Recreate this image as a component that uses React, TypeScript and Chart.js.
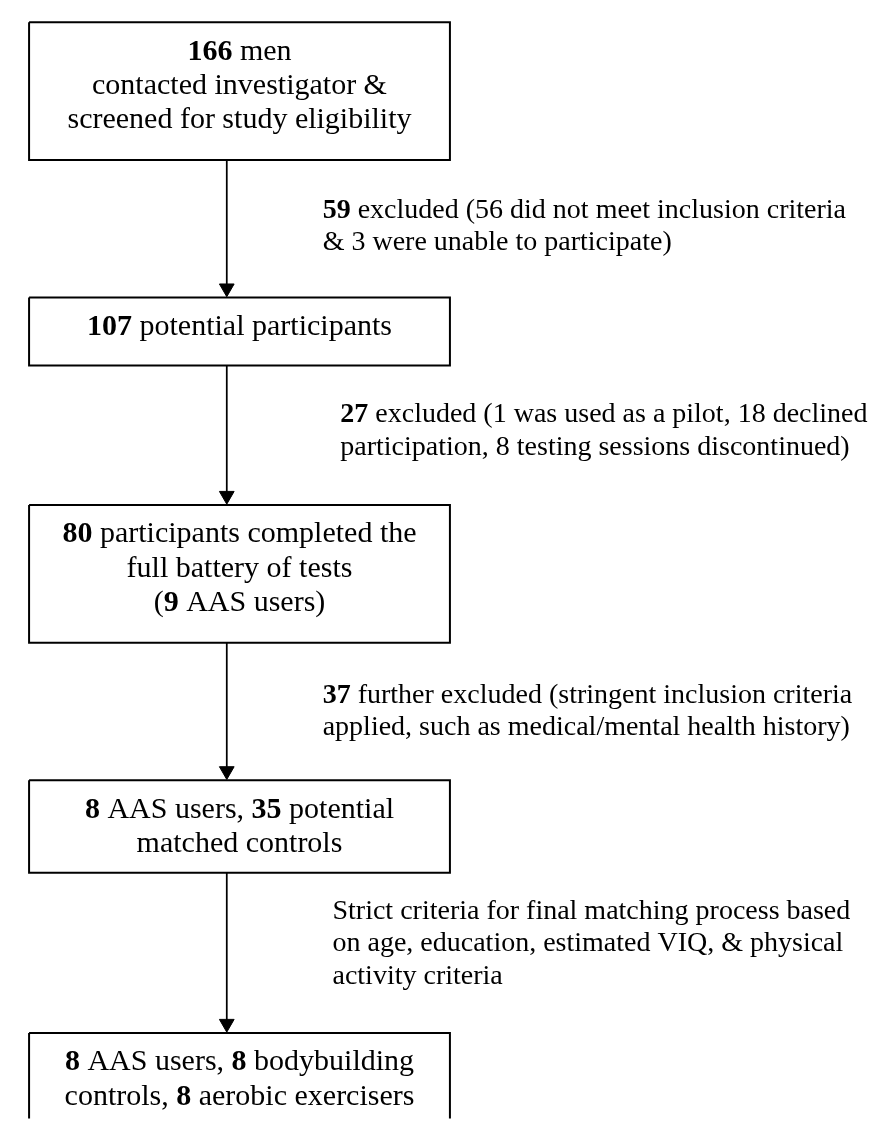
import React, { useEffect, useRef } from "react";
import { Chart, registerables } from "chart.js";

Chart.register(...registerables);

type Seg = [string, boolean]; // [text, bold]

// ---- Data: text of each stage box (bold = counts) ----
const boxLines: Seg[][][] = [
  [[["166", true], [" men", false]], [["contacted investigator &", false]], [["screened for study eligibility", false]]],
  [[["107", true], [" potential participants", false]]],
  [[["80", true], [" participants completed the", false]], [["full battery of tests", false]], [["(", false], ["9", true], [" AAS users)", false]]],
  [[["8", true], [" AAS users, ", false], ["35", true], [" potential", false]], [["matched controls", false]]],
  [[["8", true], [" AAS users, ", false], ["8", true], [" bodybuilding", false]], [["controls, ", false], ["8", true], [" aerobic exercisers", false]]],
];

// ---- Data: exclusion notes beside each arrow ----
const noteLines: Seg[][][] = [
  [[["59", true], [" excluded (56 did not meet inclusion criteria", false]], [["& 3 were unable to participate)", false]]],
  [[["27", true], [" excluded (1 was used as a pilot, 18 declined", false]], [["participation, 8 testing sessions discontinued)", false]]],
  [[["37", true], [" further excluded (stringent inclusion criteria", false]], [["applied, such as medical/mental health history)", false]]],
  [[["Strict criteria for final matching process based", false]], [["on age, education, estimated VIQ, & physical", false]], [["activity criteria", false]]],
];

// ---- Layout (scale units = page pixels) ----
const W = 893;
const H = 1128;
const BOX_X0 = 20;
const BOX_X1 = 450;
const FLOW_X = 222;
const boxTop = [13, 293, 504, 784, 1041];
const boxBottom = [153, 362, 644, 878, 1135];
const noteX = [320, 338, 320, 330];
const noteBaseline = [212, 420, 705, 925];
const BOX_FONT = 30;
const BOX_LINE = 35;
const BOX_FIRST = 38;
const NOTE_FONT = 28;
const NOTE_LINE = 33;
const HEAD_R = 8.5;
const FONT_FAMILY = '"Liberation Serif", "Times New Roman", serif';

function buildDatasets() {
  const ds: any[] = [];
  boxTop.forEach((t, i) => {
    const b = boxBottom[i];
    ds.push({
      label: "box" + i,
      data: [
        { x: BOX_X0, y: t },
        { x: BOX_X1, y: t },
        { x: BOX_X1, y: b },
        { x: BOX_X0, y: b },
        { x: BOX_X0, y: t },
      ],
      showLine: true,
      borderColor: "#000",
      borderWidth: 2,
      pointRadius: 0,
      fill: false,
      tension: 0,
      borderJoinStyle: "miter",
    });
  });
  for (let i = 0; i < boxTop.length - 1; i++) {
    const tipY = boxTop[i + 1];
    ds.push({
      label: "shaft" + i,
      data: [
        { x: FLOW_X, y: boxBottom[i] },
        { x: FLOW_X, y: tipY - HEAD_R },
      ],
      showLine: true,
      borderColor: "#000",
      borderWidth: 1.75,
      pointRadius: 0,
    });
    ds.push({
      label: "head" + i,
      data: [{ x: FLOW_X, y: tipY - HEAD_R - 1 }],
      showLine: false,
      pointStyle: "triangle",
      rotation: 180,
      pointRadius: HEAD_R,
      pointBackgroundColor: "#000",
      pointBorderColor: "#000",
      pointBorderWidth: 1,
    });
  }
  return ds;
}

function drawSegs(ctx: CanvasRenderingContext2D, segs: Seg[], x: number, y: number, size: number, center: boolean) {
  const fontOf = (b: boolean) => `${b ? "bold " : ""}${size}px ${FONT_FAMILY}`;
  let total = 0;
  const widths = segs.map(([txt, b]) => {
    ctx.font = fontOf(b);
    const w = ctx.measureText(txt).width;
    total += w;
    return w;
  });
  let cx = center ? x - total / 2 : x;
  segs.forEach(([txt, b], k) => {
    ctx.font = fontOf(b);
    ctx.fillText(txt, cx, y);
    cx += widths[k];
  });
}

const textPlugin = {
  id: "flowText",
  afterDatasetsDraw(chart: any) {
    const { ctx } = chart;
    const xs = chart.scales.x;
    const ys = chart.scales.y;
    ctx.save();
    ctx.fillStyle = "#000";
    ctx.textAlign = "left";
    ctx.textBaseline = "alphabetic";
    const cx = xs.getPixelForValue((BOX_X0 + BOX_X1) / 2);
    boxLines.forEach((lines, i) => {
      lines.forEach((segs, j) => {
        const py = ys.getPixelForValue(boxTop[i] + BOX_FIRST + j * BOX_LINE);
        drawSegs(ctx, segs, cx, py, BOX_FONT, true);
      });
    });
    noteLines.forEach((lines, i) => {
      lines.forEach((segs, j) => {
        const px = xs.getPixelForValue(noteX[i]);
        const py = ys.getPixelForValue(noteBaseline[i] + j * NOTE_LINE);
        drawSegs(ctx, segs, px, py, NOTE_FONT, false);
      });
    });
    ctx.restore();
  },
};

export default function App() {
  const ref = useRef<HTMLCanvasElement | null>(null);
  useEffect(() => {
    if (!ref.current) return;
    const chart = new Chart(ref.current, {
      type: "scatter",
      data: { datasets: buildDatasets() },
      options: {
        animation: false,
        responsive: false,
        devicePixelRatio: 1,
        layout: { padding: 0 },
        plugins: { legend: { display: false }, tooltip: { enabled: false } },
        scales: {
          x: { type: "linear", min: 0, max: W, display: false },
          y: { type: "linear", min: 0, max: H, reverse: true, display: false },
        },
      },
      plugins: [textPlugin],
    } as any);
    return () => chart.destroy();
  }, []);
  return (
    <div style={{ position: "absolute", left: 0, top: 0, width: W, height: H, background: "#fff" }}>
      <canvas ref={ref} width={W} height={H} style={{ display: "block" }} />
    </div>
  );
}
